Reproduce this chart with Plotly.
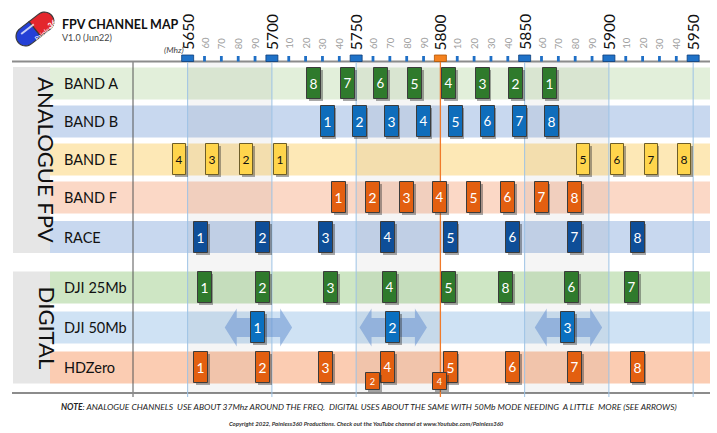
import numpy as np
import plotly.graph_objects as go

# ---------------- data ----------------
row_names = ["BAND A", "BAND B", "BAND E", "BAND F", "RACE", "DJI 25Mb", "DJI 50Mb", "HDZero"]

band_a_freq = [5865, 5845, 5825, 5805, 5785, 5765, 5745, 5725]
band_a_ch = ["1", "2", "3", "4", "5", "6", "7", "8"]
band_b_freq = [5733, 5752, 5771, 5790, 5809, 5828, 5847, 5866]
band_b_ch = ["1", "2", "3", "4", "5", "6", "7", "8"]
band_e_freq = [5705, 5685, 5665, 5645, 5885, 5905, 5925, 5945]
band_e_ch = ["1", "2", "3", "4", "5", "6", "7", "8"]
band_f_freq = [5740, 5760, 5780, 5800, 5820, 5840, 5860, 5880]
band_f_ch = ["1", "2", "3", "4", "5", "6", "7", "8"]
race_freq = [5658, 5695, 5732, 5769, 5806, 5843, 5880, 5917]
race_ch = ["1", "2", "3", "4", "5", "6", "7", "8"]
dji25_freq = [5660, 5695, 5735, 5770, 5805, 5878, 5914, 5839]
dji25_ch = ["1", "2", "3", "4", "5", "6", "7", "8"]
dji50_freq = [5692, 5772, 5876]
dji50_ch = ["1", "2", "3"]
dji50_bandwidth = 40
hdzero_freq = [5658, 5695, 5732, 5769, 5806, 5843, 5880, 5917]
hdzero_ch = ["1", "2", "3", "4", "5", "6", "7", "8"]
hdzero_extra_freq = [5760, 5800]
hdzero_extra_ch = ["2", "4"]

major_ticks = [5650, 5700, 5750, 5800, 5850, 5900, 5950]
major_labels = ["5650", "5700", "5750", "5800", "5850", "5900", "5950"]
minor_ticks = [5660, 5670, 5680, 5690, 5710, 5720, 5730, 5740, 5760, 5770, 5780, 5790,
               5810, 5820, 5830, 5840, 5860, 5870, 5880, 5890, 5910, 5920, 5930, 5940]
minor_labels = ["60", "70", "80", "90", "10", "20", "30", "40", "60", "70", "80", "90",
                "10", "20", "30", "40", "60", "70", "80", "90", "10", "20", "30", "40"]
center_freq = 5800

# ---------------- layout / style ----------------
W, H = 717, 433
PXMHZ = 1.685
X0 = 5800 - 440.4 / PXMHZ
X1 = X0 + W / PXMHZ
FONT = "Lato"

def px(x):
    return x / W

def mhz(p):
    return p / PXMHZ

row_y = {"BAND A": 83.5, "BAND B": 121.5, "BAND E": 159.5, "BAND F": 197.5, "RACE": 237,
         "DJI 25Mb": 287.5, "DJI 50Mb": 327.5, "HDZero": 367.5}
row_bg = {"BAND A": "#e2efda", "BAND B": "#c8d8ef", "BAND E": "#fde8b6", "BAND F": "#fbd8c6",
          "RACE": "#c8d8ef", "DJI 25Mb": "#cee6c4", "DJI 50Mb": "#cfe2f4", "HDZero": "#fbccb2"}
ROW_H = 16

fig = go.Figure()
shapes = []
ann = []

# row backgrounds
for r in row_names:
    shapes.append(dict(type="rect", xref="paper", yref="y", x0=px(50), x1=px(710),
                       y0=row_y[r] - ROW_H, y1=row_y[r] + ROW_H, fillcolor=row_bg[r],
                       line=dict(width=0), layer="below"))
    ann.append(dict(x=px(62), y=row_y[r], xref="paper", yref="y", text=r, showarrow=False,
                    xanchor="left", yanchor="middle", font=dict(family=FONT, size=14.5, color="#111")))

# section boxes
shapes.append(dict(type="rect", xref="paper", yref="y", x0=px(13), x1=px(50), y0=67, y1=253,
                   fillcolor="#e6e6e6", line=dict(width=0), layer="below"))
shapes.append(dict(type="rect", xref="paper", yref="y", x0=px(13), x1=px(50), y0=271.5, y1=383.5,
                   fillcolor="#e6e6e6", line=dict(width=0), layer="below"))
ann.append(dict(x=px(31.5), y=160, xref="paper", yref="y", text="ANALOGUE FPV", textangle=90,
                showarrow=False, font=dict(family=FONT, size=22, color="#111")))
ann.append(dict(x=px(31.5), y=327.5, xref="paper", yref="y", text="DIGITAL", textangle=90,
                showarrow=False, font=dict(family=FONT, size=22, color="#111")))

# grey alternating columns
for i in range(0, len(major_ticks) - 1, 2):
    shapes.append(dict(type="rect", xref="x", yref="y", x0=major_ticks[i], x1=major_ticks[i + 1],
                       y0=62, y1=393, fillcolor="rgba(0,0,0,0.04)", line=dict(width=0), layer="below"))

# vertical lines
for t in major_ticks:
    col = "#f07a2a" if t == center_freq else "#9cc2e5"
    shapes.append(dict(type="line", xref="x", yref="y", x0=t, x1=t, y0=62, y1=397,
                       line=dict(color=col, width=1.3 if t == center_freq else 1), layer="below"))
shapes.append(dict(type="line", xref="paper", yref="y", x0=px(133), x1=px(133), y0=61, y1=397,
                   line=dict(color="#555555", width=1), layer="below"))

# axis lines
for yy in (61.5, 393):
    shapes.append(dict(type="line", xref="paper", yref="y", x0=px(12), x1=px(710), y0=yy, y1=yy,
                       line=dict(color="#8c8c8c", width=2), layer="below"))

# top tick marks and labels
for t, lab in zip(major_ticks, major_labels):
    fc, lc = ("#f5821f", "#b35400") if t == center_freq else ("#1f72c8", "#0d3d7a")
    shapes.append(dict(type="rect", xref="x", yref="y", x0=t - mhz(6), x1=t + mhz(6), y0=55, y1=61.5,
                       fillcolor=fc, line=dict(color=lc, width=0.8), layer="above"))
    ann.append(dict(x=t, y=32, xref="x", yref="y", text=lab, textangle=-90, showarrow=False,
                    font=dict(family=FONT, size=15.5, color="#111")))
for t, lab in zip(minor_ticks, minor_labels):
    shapes.append(dict(type="rect", xref="x", yref="y", x0=t - mhz(1.4), x1=t + mhz(1.4), y0=56, y1=61.5,
                       fillcolor="#1f6fc5", line=dict(width=0), layer="above"))
    ann.append(dict(x=t, y=43, xref="x", yref="y", text=lab, textangle=-90, showarrow=False,
                    font=dict(family=FONT, size=9.5, color="#a0a0a0")))

# DJI 50Mb arrows
for f in dji50_freq:
    yc = row_y["DJI 50Mb"]
    h = dji50_bandwidth / 2
    hl = mhz(12)
    bh, hh = 9.5, 19
    pts = [(f - h, yc), (f - h + hl, yc - hh), (f - h + hl, yc - bh), (f + h - hl, yc - bh),
           (f + h - hl, yc - hh), (f + h, yc), (f + h - hl, yc + hh), (f + h - hl, yc + bh),
           (f - h + hl, yc + bh), (f - h + hl, yc + hh)]
    path = "M " + " L ".join(f"{a},{b}" for a, b in pts) + " Z"
    shapes.append(dict(type="path", xref="x", yref="y", path=path,
                       fillcolor="rgba(95,140,205,0.5)", line=dict(width=0), layer="below"))

# channel boxes
def add_boxes(freqs, chans, yc, fill, txtcol, wpx=14, hpx=31, line="#3c3c3c"):
    w = mhz(wpx)
    # shadow
    fig.add_trace(go.Bar(x=[f + mhz(1.8) for f in freqs], y=[hpx] * len(freqs),
                         base=[yc - hpx / 2 + 2.2] * len(freqs), width=w,
                         marker=dict(color="rgba(40,40,40,0.4)", line=dict(width=0)),
                         hoverinfo="skip", showlegend=False))
    fig.add_trace(go.Bar(x=freqs, y=[hpx] * len(freqs), base=[yc - hpx / 2] * len(freqs), width=w,
                         marker=dict(color=fill, line=dict(color=line, width=1)),
                         text=chans, textposition="inside", insidetextanchor="middle", textangle=0,
                         textfont=dict(family=FONT, size=15, color=txtcol),
                         hoverinfo="skip", showlegend=False))

add_boxes(band_a_freq, band_a_ch, row_y["BAND A"], "#2f7a2c", "white")
add_boxes(band_b_freq, band_b_ch, row_y["BAND B"], "#0f6dbb", "white")
add_boxes(band_e_freq, band_e_ch, row_y["BAND E"], "#ffd54c", "#111", wpx=13, line="#6e5e28")
add_boxes(band_f_freq, band_f_ch, row_y["BAND F"], "#e35f10", "white")
add_boxes(race_freq, race_ch, row_y["RACE"], "#0e4e98", "white")
add_boxes(dji25_freq, dji25_ch, row_y["DJI 25Mb"], "#2f7a2c", "white")
add_boxes(dji50_freq, dji50_ch, row_y["DJI 50Mb"], "#0b70c0", "white")
add_boxes(hdzero_freq, hdzero_ch, row_y["HDZero"], "#e35f10", "white")
add_boxes(hdzero_extra_freq, hdzero_extra_ch, row_y["HDZero"] + 13.5, "#e35f10", "white", hpx=17)

# logo pill
cx, cy, L, R, a = 35, 29, 12, 9.5, np.radians(38)
u = np.array([np.cos(a), -np.sin(a)])
n = np.array([np.sin(a), np.cos(a)])
c = np.array([cx, cy])
for sign, col in ((-1, "#2440d6"), (1, "#e3262c")):
    e = c + sign * L * u
    pts = [c + R * n, e + R * n]
    for t in np.linspace(0, np.pi, 24):
        d = np.cos(t) * n + np.sin(t) * sign * u
        pts.append(e + R * d)
    pts.append(c - R * n)
    path = "M " + " L ".join(f"{px(p[0]):.5f},{p[1]:.2f}" for p in pts) + " Z"
    shapes.append(dict(type="path", xref="paper", yref="y", path=path, fillcolor=col,
                       line=dict(color="#3a3a3a", width=1.2), layer="above"))
# highlight stripe on pill
hs = c + 4.5 * (-n) - 14 * u
he = c + 4.5 * (-n) + 2 * u
shapes.append(dict(type="line", xref="paper", yref="y", x0=px(hs[0]), y0=hs[1], x1=px(he[0]), y1=he[1],
                   line=dict(color="rgba(255,255,255,0.75)", width=2), layer="above"))
ann.append(dict(x=px(30), y=32.5, xref="paper", yref="y", text="Painless", textangle=-38, showarrow=False,
                font=dict(family=FONT, size=6.5, color="white")))
ann.append(dict(x=px(43), y=22, xref="paper", yref="y", text="<b>360</b>", textangle=-38, showarrow=False,
                font=dict(family=FONT, size=7.5, color="white")))

# titles and notes
ann.append(dict(x=px(60), y=24, xref="paper", yref="y", text="<b>FPV CHANNEL MAP</b>", showarrow=False,
                xanchor="left", font=dict(family=FONT, size=12.5, color="#111")))
ann.append(dict(x=px(60), y=37, xref="paper", yref="y", text="V1.0 (Jun22)", showarrow=False,
                xanchor="left", font=dict(family=FONT, size=9, color="#444")))
ann.append(dict(x=px(162), y=50, xref="paper", yref="y", text="<i>(Mhz)</i>", showarrow=False,
                font=dict(family=FONT, size=8.5, color="#444")))
ann.append(dict(x=px(368.5), y=407, xref="paper", yref="y",
                text="<i><b>NOTE</b>: ANALOGUE CHANNELS  USE ABOUT 37Mhz AROUND THE FREQ.  DIGITAL USES ABOUT THE SAME WITH 50Mb MODE NEEDING  A LITTLE  MORE (SEE ARROWS)</i>",
                showarrow=False, font=dict(family=FONT, size=8.5, color="#222")))
ann.append(dict(x=px(366.5), y=423, xref="paper", yref="y",
                text="<b><i>Copyright 2022, Painless360 Productions. Check out the YouTube channel at www.Youtube.com/Painless360</i></b>",
                showarrow=False, font=dict(family=FONT, size=6, color="#333")))

fig.update_layout(
    width=W, height=H, margin=dict(l=0, r=0, t=0, b=0),
    paper_bgcolor="white", plot_bgcolor="white", barmode="overlay", bargap=0,
    xaxis=dict(range=[X0, X1], visible=False, fixedrange=True),
    yaxis=dict(range=[H, 0], visible=False, fixedrange=True),
    shapes=shapes, annotations=ann, showlegend=False,
)
fig.write_html("out.html", config={"displayModeBar": False},
               post_script="document.body.style.margin='0';document.body.style.overflow='hidden';")
